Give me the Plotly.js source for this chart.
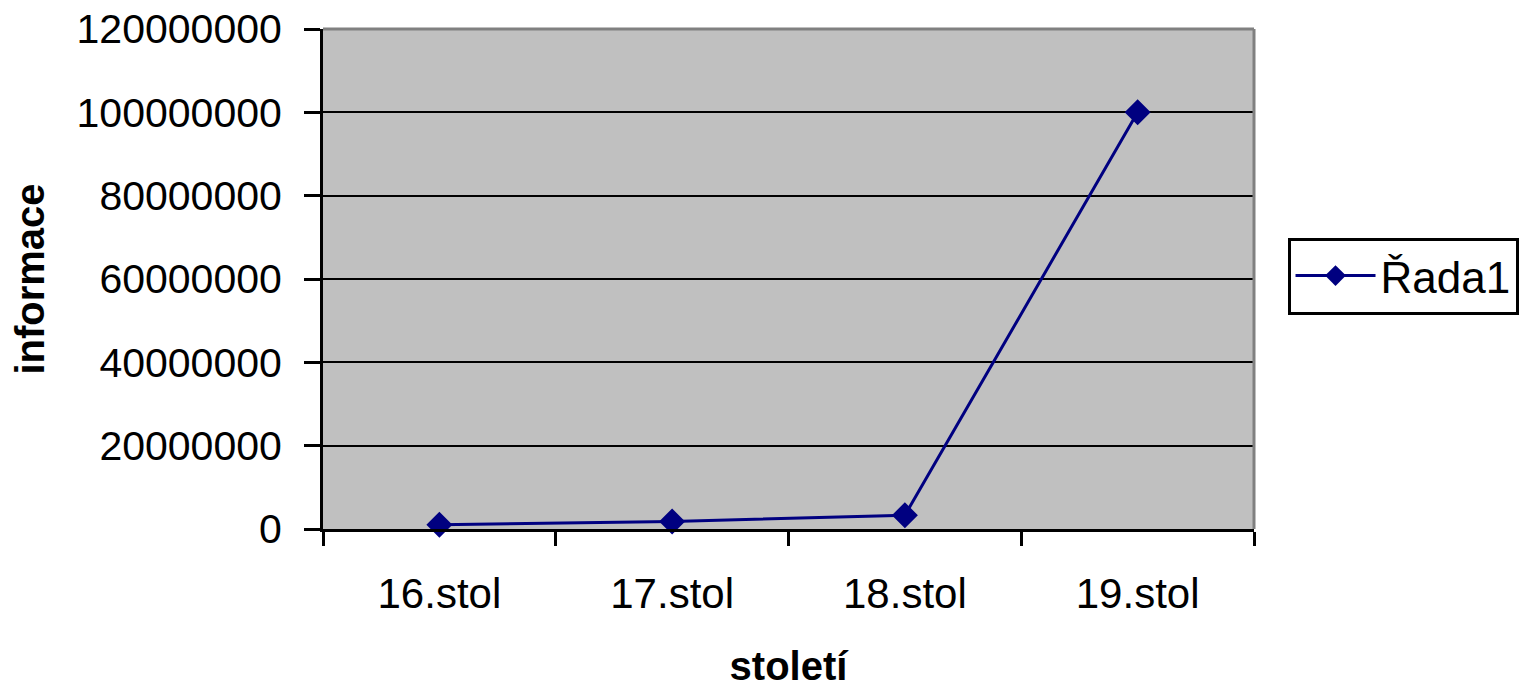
<!DOCTYPE html>
<html>
<head>
<meta charset="utf-8">
<script src="https://cdn.plot.ly/plotly-3.0.1.min.js"></script>
<style>html,body{margin:0;padding:0;background:#fff;}#chart{width:1530px;height:688px;}</style>
</head>
<body>
<div id="chart"></div>
<script>
var categories = ["16.stol", "17.stol", "18.stol", "19.stol"];
var values = [1000000, 1800000, 3300000, 100000000];
var seriesName = "Řada1";
var xTitle = "století";
var yTitle = "informace";

var font = "Liberation Sans, Arial, sans-serif";

var trace = {
  type: "scatter",
  mode: "lines+markers",
  x: categories,
  y: values,
  name: seriesName,
  line: {color: "#000080", width: 3},
  marker: {symbol: "diamond", size: 20, color: "#000080"},
  cliponaxis: false
};

var layout = {
  width: 1530,
  height: 688,
  margin: {l: 323, r: 274, t: 29, b: 159},
  paper_bgcolor: "#ffffff",
  plot_bgcolor: "#c0c0c0",
  showlegend: true,
  font: {family: font, color: "#000000", size: 36},
  xaxis: {
    type: "category",
    range: [-0.5, 3.5],
    tickson: "boundaries",
    ticks: "outside",
    ticklen: 14,
    tickwidth: 3,
    tickcolor: "#000",
    ticklabelstandoff: 26,
    showline: true,
    linecolor: "#000",
    linewidth: 3,
    showgrid: false,
    zeroline: false,
    tickfont: {family: font, size: 42, color: "#000"},
    title: {text: xTitle, font: {family: font, size: 40, color: "#000", weight: "bold"}, standoff: 36},
    fixedrange: true
  },
  yaxis: {
    range: [0, 120000000],
    dtick: 20000000,
    tick0: 0,
    tickformat: "d",
    ticks: "outside",
    ticklen: 16,
    tickwidth: 3,
    tickcolor: "#000",
    ticklabelstandoff: 14,
    showline: true,
    linecolor: "#000",
    linewidth: 3,
    showgrid: true,
    gridcolor: "#000",
    gridwidth: 2,
    zeroline: false,
    tickfont: {family: font, size: 41, color: "#000"},
    title: {text: yTitle, font: {family: font, size: 40, color: "#000", weight: "bold"}, standoff: 20},
    fixedrange: true
  },
  shapes: [
    {type: "line", xref: "paper", yref: "paper", x0: 0, x1: 1, y0: 1, y1: 1, line: {color: "#808080", width: 3}, layer: "above"},
    {type: "line", xref: "paper", yref: "paper", x0: 1, x1: 1, y0: 0, y1: 1, line: {color: "#808080", width: 3}, layer: "above"}
  ],
  legend: {
    x: 1.036,
    xanchor: "left",
    y: 0.506,
    yanchor: "middle",
    bordercolor: "#000",
    borderwidth: 3,
    bgcolor: "#ffffff",
    font: {family: font, size: 44, color: "#000"},
    itemwidth: 80
  }
};

Plotly.newPlot("chart", [trace], layout, {displayModeBar: false, staticPlot: true});
</script>
</body>
</html>
